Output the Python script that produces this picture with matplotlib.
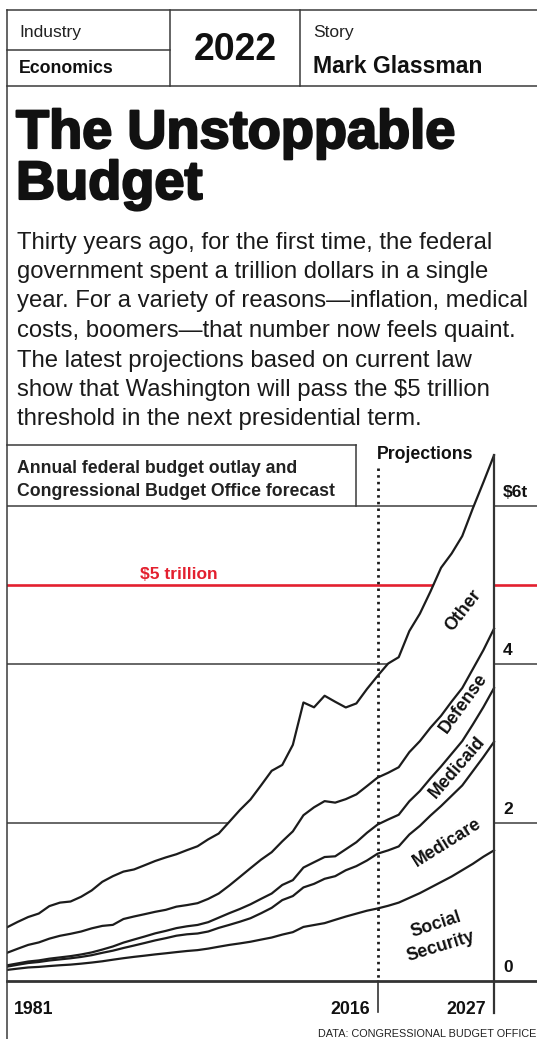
import matplotlib
matplotlib.use("Agg")
import numpy as np
import matplotlib.pyplot as plt
import matplotlib.patheffects as pe

plt.rcParams['font.family'] = ['Liberation Sans', 'DejaVu Sans']

# Datos (billones de dólares), 1981-2016 real, 2017-2027 proyección CBO
years = list(range(1981, 2028))

social_security = [0.140, 0.156, 0.171, 0.178, 0.189, 0.199, 0.207, 0.219, 0.233, 0.249,
                   0.269, 0.288, 0.305, 0.320, 0.336, 0.350, 0.365, 0.379, 0.390, 0.409,
                   0.433, 0.456, 0.475, 0.496, 0.523, 0.549, 0.586, 0.617, 0.683, 0.707,
                   0.731, 0.773, 0.814, 0.851, 0.888, 0.916,
                   0.95, 0.99, 1.05, 1.11, 1.18, 1.25, 1.32, 1.40, 1.48, 1.57, 1.65]
medicare = [0.041, 0.049, 0.056, 0.062, 0.070, 0.074, 0.080, 0.085, 0.093, 0.107,
            0.114, 0.129, 0.143, 0.160, 0.177, 0.191, 0.207, 0.211, 0.210, 0.216,
            0.238, 0.253, 0.274, 0.297, 0.333, 0.375, 0.436, 0.456, 0.499, 0.520,
            0.560, 0.551, 0.585, 0.600, 0.634, 0.692,
            0.70, 0.71, 0.80, 0.85, 0.91, 0.96, 1.02, 1.07, 1.17, 1.26, 1.37]
medicaid = [0.017, 0.017, 0.019, 0.020, 0.023, 0.025, 0.027, 0.031, 0.035, 0.041,
            0.053, 0.068, 0.076, 0.082, 0.089, 0.092, 0.096, 0.101, 0.108, 0.118,
            0.129, 0.148, 0.161, 0.176, 0.182, 0.181, 0.191, 0.201, 0.251, 0.273,
            0.275, 0.251, 0.265, 0.302, 0.350, 0.368,
            0.39, 0.40, 0.42, 0.44, 0.47, 0.50, 0.53, 0.56, 0.59, 0.63, 0.68]
defense = [0.158, 0.185, 0.210, 0.227, 0.253, 0.273, 0.282, 0.290, 0.304, 0.299,
           0.273, 0.298, 0.291, 0.282, 0.272, 0.266, 0.271, 0.268, 0.275, 0.294,
           0.305, 0.349, 0.405, 0.456, 0.495, 0.522, 0.551, 0.616, 0.661, 0.694,
           0.706, 0.678, 0.633, 0.604, 0.590, 0.593,
           0.59, 0.60, 0.62, 0.63, 0.64, 0.64, 0.66, 0.67, 0.70, 0.72, 0.75]
total = [0.678, 0.746, 0.808, 0.852, 0.946, 0.990, 1.004, 1.064, 1.144, 1.253,
         1.324, 1.382, 1.409, 1.462, 1.516, 1.561, 1.601, 1.653, 1.702, 1.789,
         1.863, 2.011, 2.160, 2.293, 2.472, 2.655, 2.729, 2.983, 3.518, 3.457,
         3.603, 3.527, 3.455, 3.506, 3.688, 3.853,
         4.01, 4.09, 4.42, 4.64, 4.92, 5.22, 5.40, 5.62, 5.97, 6.30, 6.64]

grid_vals = [2, 4, 6]
tick_labels = {6: "$6t", 4: "4", 2: "2", 0: "0"}
year_labels = [1981, 2016, 2027]
threshold = 5
proj_start = 2016

body = ["Thirty years ago, for the first time, the federal",
        "government spent a trillion dollars in a single",
        "year. For a variety of reasons\u2014inflation, medical",
        "costs, boomers\u2014that number now feels quaint.",
        "The latest projections based on current law",
        "show that Washington will pass the $5 trillion",
        "threshold in the next presidential term."]

# Líneas acumuladas
c1 = np.array(social_security)
c2 = c1 + np.array(medicare)
c3 = c2 + np.array(medicaid)
c4 = c3 + np.array(defense)
c5 = np.array(total)

W, H = 537, 1039
fig = plt.figure(figsize=(W / 100, H / 100), dpi=100)
fig.patch.set_facecolor("white")

# eje de fondo en pixeles para cabecera y textos
bg = fig.add_axes([0, 0, 1, 1])
bg.set_xlim(0, W)
bg.set_ylim(H, 0)
bg.axis("off")
bg.patch.set_visible(False)
bg.set_zorder(3)

edge = "#3a3a3a"
lw_box = 1.1
# cabecera
bg.plot([7, W], [10, 10], color=edge, lw=lw_box)
bg.plot([7, 170], [50, 50], color=edge, lw=lw_box)
bg.plot([7, W], [86, 86], color=edge, lw=lw_box)
bg.plot([170, 170], [10, 86], color=edge, lw=lw_box)
bg.plot([300, 300], [10, 86], color=edge, lw=lw_box)
bg.plot([7, 7], [10, H], color=edge, lw=lw_box)

bg.text(19, 37, "Industry", fontsize=12.5, color="#222")
bg.text(19, 73, "Economics", fontsize=12.8, fontweight="bold", color="#111")
bg.text(235, 60, "2022", fontsize=27, fontweight="bold", ha="center", color="#111")
bg.text(313, 37, "Story", fontsize=12.5, color="#222")
bg.text(313, 73, "Mark Glassman", fontsize=16.6, fontweight="bold", color="#111")

# título
for i, t in enumerate(["The Unstoppable", "Budget"]):
    bg.text(16, 148 + 51 * i, t, fontsize=39, fontweight="bold", color="#111",
            path_effects=[pe.withStroke(linewidth=1.6, foreground="#111")])

for i, line in enumerate(body):
    bg.text(17, 248.5 + 29.5 * i, line, fontsize=17.2, color="#1a1a1a")

# caja del gráfico
bg.plot([7, 356], [445, 445], color=edge, lw=lw_box)
bg.plot([356, 356], [445, 506], color=edge, lw=lw_box)
bg.text(17, 473, "Annual federal budget outlay and", fontsize=12.7,
        fontweight="bold", color="#222")
bg.text(17, 496, "Congressional Budget Office forecast", fontsize=12.7,
        fontweight="bold", color="#222")
bg.text(377, 459, "Projections", fontsize=12.7, fontweight="bold", color="#111")

bg.text(536, 1037, "DATA: CONGRESSIONAL BUDGET OFFICE", fontsize=7.8,
        ha="right", color="#222")

# eje de datos
PX_T = 79.17
PX_Y = 10.587
ax = fig.add_axes([7 / W, (H - 981) / H, 530 / W, 536 / H])
ax.set_xlim(years[0], years[0] + 530 / PX_Y)
ax.set_ylim(0, 536 / PX_T)
ax.axis("off")
ax.set_zorder(2)
ax.patch.set_visible(False)

for g in grid_vals:
    ax.axhline(g, color="#5a5a5a", lw=1.3, zorder=1)
ax.axhline(threshold, color="#e3202f", lw=1.9, zorder=1)
ax.text(years[0] + 133 / PX_Y, threshold + 6 / PX_T, "$5 trillion", color="#e3202f",
        fontsize=12.5, fontweight="bold", va="baseline")

ax.fill_between(years, 0, c5, color="white", zorder=1.5, lw=0)
for c in [c1, c2, c3, c4, c5]:
    ax.plot(years, c, color="#1c1c1c", lw=1.6, zorder=3, solid_joinstyle="round")

ax.axhline(0, color="#333", lw=2.0, zorder=4, clip_on=False)
ax.plot([years[-1], years[-1]], [c5[-1], -0.4], color="#333", lw=1.6, zorder=4,
        clip_on=False)
ax.plot([proj_start, proj_start], [6.48, 0], color="#1c1c1c", lw=2.0,
        ls=(0, (0.9, 1.5)), zorder=4)
ax.plot([proj_start, proj_start], [0, -0.39], color="#333", lw=1.2, zorder=4,
        clip_on=False)

for v, lab in tick_labels.items():
    ax.text(years[0] + 496 / PX_Y, v + 9 / PX_T, lab, fontsize=12.5,
            fontweight="bold", color="#111", va="baseline")

ax.text(years[0] + 7 / PX_Y, -33 / PX_T, str(year_labels[0]), fontsize=12.8,
        fontweight="bold", color="#111", va="baseline")
ax.text(year_labels[1] - 0.75, -33 / PX_T, str(year_labels[1]), fontsize=12.8,
        fontweight="bold", color="#111", va="baseline", ha="right")
ax.text(year_labels[2] - 0.75, -33 / PX_T, str(year_labels[2]), fontsize=12.8,
        fontweight="bold", color="#111", va="baseline", ha="right")

# etiquetas de las bandas (coordenadas en pixeles)
bands = [("Other", 463, 610, 52), ("Defense", 464, 703, 54),
         ("Medicaid", 457, 767, 49), ("Medicare", 447, 843, 32),
         ("Social", 436, 925, 18), ("Security", 441, 947, 17)]
for name, x, y, rot in bands:
    bg.text(x, y, name, fontsize=12.8, fontweight="bold", color="#111",
            rotation=rot, rotation_mode="anchor", ha="center", va="center")

fig.savefig("out.png", dpi=100)
